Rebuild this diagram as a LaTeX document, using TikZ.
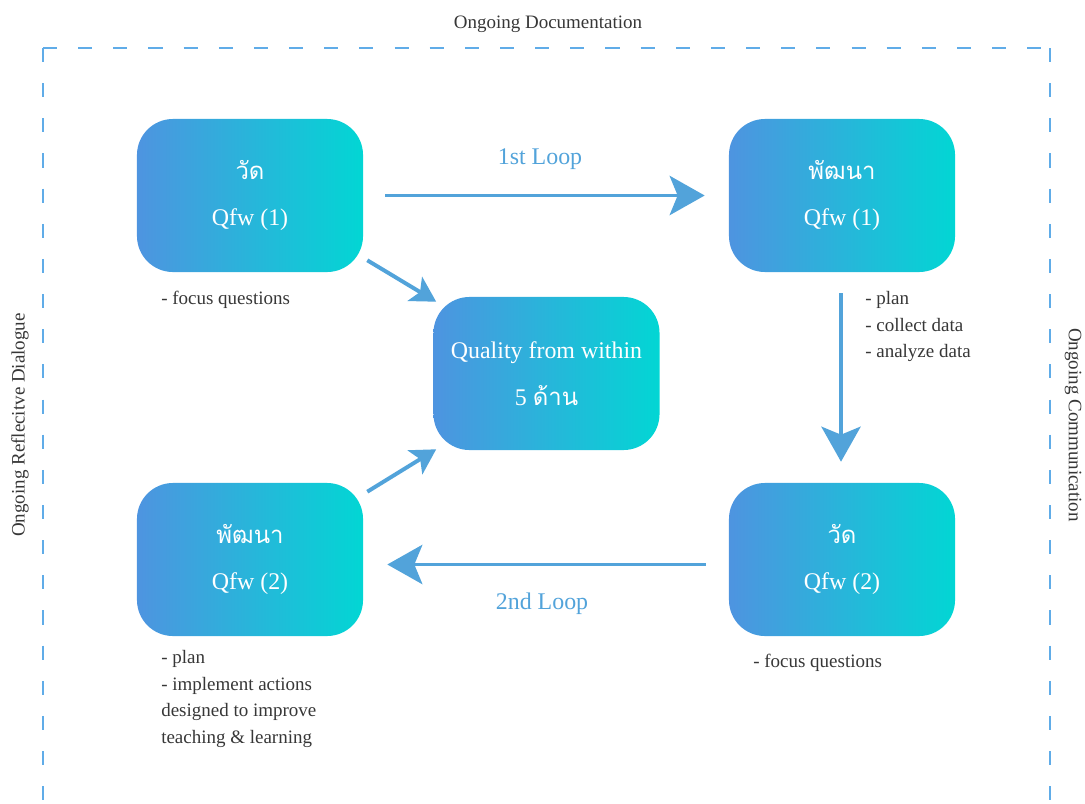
\documentclass[tikz,border=0pt]{standalone}
\usepackage{fontspec}
\setmainfont{Liberation Serif}
\newfontfamily\thaifont[Script=Thai]{Loma}
\usetikzlibrary{arrows.meta,calc}
\definecolor{qleft}{RGB}{78,148,224}
\definecolor{qright}{RGB}{2,214,212}
\definecolor{arrblue}{RGB}{82,163,218}
\definecolor{dashblue}{RGB}{96,172,232}
\definecolor{notegray}{RGB}{55,55,55}
\tikzset{
  qbox/.style={rounded corners=0.9cm, left color=qleft, right color=qright, draw=none,
    minimum width=5.65cm, minimum height=3.825cm, text=white, align=center,
    font=\fontsize{17pt}{33pt}\selectfont},
  arr/.style={draw=arrblue, line width=2.8pt, -{Stealth[length=0.875cm,width=0.98cm,inset=0.2cm]}},
  smallarr/.style={draw=arrblue, line width=2.8pt, -{Stealth[length=0.62cm,width=0.7cm,inset=0.15cm]}},
  note/.style={anchor=north west, inner sep=0pt, align=left, text=notegray,
    font=\fontsize{13.5pt}{18.9pt}\selectfont},
  looplabel/.style={text=arrblue, font=\fontsize{17pt}{20pt}\selectfont},
  framedash/.style={dashblue, line width=1.3pt, dash pattern=on 10pt off 15pt},
}
\begin{document}
\begin{tikzpicture}[x=0.025cm, y=-0.025cm]
  \useasboundingbox (0,0) rectangle (1085,803);
  % frame
  \draw[framedash] (43,48) -- (43,803);
  \draw[framedash] (43,48) -- (1050,48);
  \draw[framedash] (1050,48) -- (1050,803);
  \node[text=notegray, font=\fontsize{13.5pt}{16pt}\selectfont] (doc) at (548,24) {Ongoing Documentation};
  \node[text=notegray, font=\fontsize{13.5pt}{16pt}\selectfont, rotate=90] (dia) at (20,425) {Ongoing Reflecitve Dialogue};
  \node[text=notegray, font=\fontsize{13.5pt}{16pt}\selectfont, rotate=-90] (com) at (1073,425) {Ongoing Communication};

  % boxes
  \node[qbox] (tl) at (250,195.5) {{\thaifont วัด}\\Qfw (1)};
  \node[qbox] (tr) at (842,195.5) {{\thaifont พัฒนา}\\Qfw (1)};
  \node[qbox] (qual) at (546.5,373.5) {Quality from within\\5 {\thaifont ด้าน}};
  \node[qbox] (bl) at (250,559.5) {{\thaifont พัฒนา}\\Qfw (2)};
  \node[qbox] (br) at (842,559.5) {{\thaifont วัด}\\Qfw (2)};

  % arrows
  \draw[arr, shorten <=0.55cm, shorten >=0.6cm] (tl.east) -- (tr.west);
  \draw[arr, shorten <=0.525cm, shorten >=0.525cm] ($(tr.south)+(-1,0)$) -- ($(br.north)+(-1,0)$);
  \draw[arr, shorten <=0.575cm, shorten >=0.6cm] ($(br.west)+(0,5)$) -- ($(bl.east)+(0,5)$);
  \draw[smallarr] ($(tl.south east)+(4,-12)$) -- ($(qual.north west)+(3,5)$);
  \draw[smallarr] ($(bl.north east)+(4,9)$) -- ($(qual.south west)+(3,-1)$);
  \node[looplabel] (l1) at (540,159) {1st Loop};
  \node[looplabel] (l2) at (542,604) {2nd Loop};

  % notes
  \node[note] (n1) at (161,291) {- focus questions};
  \node[note] (n2) at (865,291) {- plan\\- collect data\\- analyze data};
  \node[note] (n3) at (753,654) {- focus questions};
  \node[note] (n4) at (161,650) {- plan\\- implement actions\\designed to improve\\teaching \& learning};
\end{tikzpicture}
\end{document}
